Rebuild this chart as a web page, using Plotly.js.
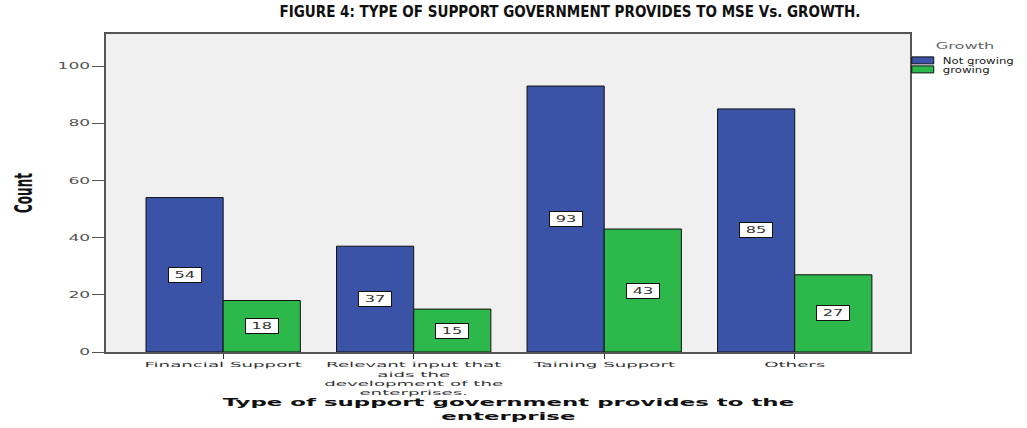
<!DOCTYPE html>
<html>
<head>
<meta charset="utf-8">
<script src="https://cdn.plot.ly/plotly-3.0.1.min.js"></script>
<style>
  html, body { margin: 0; padding: 0; background: #fff; }
  #chart { width: 1027px; height: 428px; }
</style>
</head>
<body>
<div id="chart"></div>
<script>
// ---- data ----
const categories = ['Financial Support', 'Relevant input that aids the development of the enterprises.', 'Taining Support', 'Others'];
const tickLabels = ['Financial Support', 'Relevant input that<br>aids the<br>development of the<br>enterprises.', 'Taining Support', 'Others'];
const seriesNames = ['Not growing', 'growing'];
const notGrowing = [54, 37, 93, 85];
const growing = [18, 15, 43, 27];
const yTicks = [0, 20, 40, 60, 80, 100];

// ---- styles ----
const colors = ['#3b53a7', '#2db84b'];
const bargap = 0.19;
const barOffset = (1 - bargap) / 4;
const series = [notGrowing, growing];

const traces = series.map((vals, s) => ({
  type: 'bar',
  name: seriesNames[s],
  x: categories,
  y: vals,
  marker: { color: colors[s], line: { color: '#111', width: 1 } },
  hoverinfo: 'x+y+name'
}));

const annotations = [];
series.forEach((vals, s) => {
  vals.forEach((v, i) => {
    annotations.push({
      x: i + (s === 0 ? -barOffset : barOffset),
      y: v / 2,
      xref: 'x', yref: 'y',
      text: String(v),
      showarrow: false,
      bgcolor: '#ffffff',
      bordercolor: '#111',
      borderwidth: 1,
      width: 30, height: 12,
      font: { family: 'DejaVu Sans', size: 9, color: '#333' }
    });
  });
});
// x-axis title as a positioned annotation
annotations.push({
  text: '<b>Type of support government provides to the<br>enterprise</b>',
  xref: 'paper', yref: 'paper', x: 0.5, y: -0.181,
  xanchor: 'center', yanchor: 'middle', showarrow: false,
  font: { family: 'DejaVu Sans', size: 11, color: '#111' }
});

const layout = {
  width: 1027, height: 428,
  margin: { l: 106, r: 117, t: 34, b: 76, autoexpand: false },
  paper_bgcolor: '#ffffff',
  plot_bgcolor: '#f0f0f0',
  barmode: 'group',
  bargap: bargap,
  bargroupgap: 0,
  title: {
    text: '<b>FIGURE 4: TYPE OF SUPPORT GOVERNMENT PROVIDES TO MSE Vs. GROWTH.</b>',
    font: { family: 'Liberation Sans Narrow, DejaVu Sans Condensed, Arial Narrow, sans-serif', size: 15, color: '#111' },
    x: 0.555, xref: 'container', xanchor: 'center',
    y: 0.972, yref: 'container', yanchor: 'middle'
  },
  xaxis: {
    type: 'category',
    range: [-0.615, 3.605],
    tickmode: 'array',
    tickvals: categories,
    ticktext: tickLabels,
    ticks: 'outside', ticklen: 5, tickcolor: '#333', tickwidth: 1,
    tickfont: { family: 'DejaVu Sans', size: 7, color: '#333' },
    showline: true, linecolor: '#555', linewidth: 2, mirror: true,
    showgrid: false, zeroline: false
  },
  yaxis: {
    range: [0, 111.2],
    tickmode: 'array',
    tickvals: yTicks,
    ticks: 'outside', ticklen: 12, tickcolor: '#555', tickwidth: 1,
    tickfont: { family: 'DejaVu Sans', size: 9, color: '#555' },
    showline: true, linecolor: '#555', linewidth: 2, mirror: true,
    showgrid: false, zeroline: false,
    title: {
      text: '<b>Count</b>',
      font: { family: 'DejaVu Sans', size: 24, color: '#111' },
      standoff: 34
    }
  },
  showlegend: true,
  legend: {
    x: 0.991, xanchor: 'left', y: 0.99, yanchor: 'top',
    bgcolor: 'rgba(0,0,0,0)',
    font: { family: 'DejaVu Sans', size: 9, color: '#222' },
    title: { text: '\u00a0\u00a0\u00a0\u00a0\u00a0\u00a0Growth', font: { family: 'DejaVu Sans', size: 9, color: '#666' } },
    itemwidth: 30
  },
  annotations: annotations
};

// Horizontally stretch (or squeeze) rendered text glyphs to mimic the
// stretched reference image; text stays real SVG text.
function stretch(root, selector, k) {
  root.querySelectorAll(selector).forEach(t => {
    const lines = t.querySelectorAll('tspan.line');
    const targets = lines.length ? Array.from(lines) : [t];
    targets.forEach(el => {
      const len = el.getComputedTextLength();
      if (len > 0) {
        el.setAttribute('textLength', (len * k).toFixed(1));
        el.setAttribute('lengthAdjust', 'spacingAndGlyphs');
      }
    });
  });
}

Plotly.newPlot('chart', traces, layout, { displayModeBar: false, staticPlot: true }).then(gd => {
  stretch(gd, '.ytick text', 1.9);
  stretch(gd, '.xtick text', 2.6);
  stretch(gd, '.g-ytitle text', 0.5);
  stretch(gd, '.legend .legendtitletext', 1.8);
  stretch(gd, '.legend .legendtext', 1.3);
  const anns = gd.querySelectorAll('.annotation');
  anns.forEach((a, idx) => {
    stretch(a, '.annotation-text', idx === anns.length - 1 ? 2.08 : 1.8);
  });
  // legend: wide flat swatches like the reference, compact rows, no clipping
  gd.querySelectorAll('.legend .legendpoints path').forEach(p => p.setAttribute('d', 'M11,3.5H-11V-3.5H11Z'));
  gd.querySelectorAll('.legend [clip-path]').forEach(el => el.removeAttribute('clip-path'));
  const items = Array.from(gd.querySelectorAll('.legend .traces'));
  const parse = el => {
    const m = /translate\(\s*([-\d.]+)[ ,]+([-\d.]+)\s*\)/.exec(el.getAttribute('transform') || '');
    return m ? [parseFloat(m[1]), parseFloat(m[2])] : null;
  };
  if (items.length) {
    const first = parse(items[0]);
    if (first) {
      items.forEach((el, i) => {
        const p = parse(el);
        if (p) el.setAttribute('transform', `translate(${p[0]},${first[1] - 3 + i * 9})`);
      });
    }
  }
});
</script>
</body>
</html>
